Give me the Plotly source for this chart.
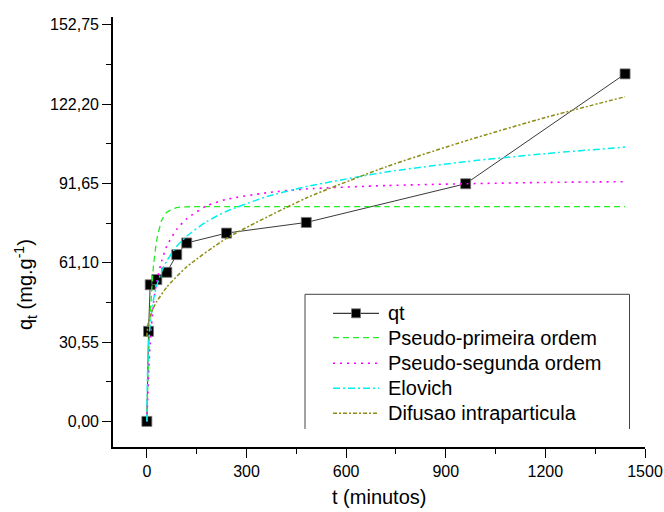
import plotly.graph_objects as go

# ---- data ----
t_exp = [0, 5, 10, 30, 60, 90, 120, 240, 480, 960, 1440]
qt_exp = [0.0, 34.7, 52.6, 54.6, 57.4, 64.2, 68.7, 72.5, 76.6, 91.5, 133.8]

t_model = [0, 2, 5, 10, 20, 30, 45, 60, 90, 120, 180, 240, 360, 480, 720, 960, 1200, 1440]
q_pfo = [0.0, 10.5, 24.0, 41.0, 60.0, 70.0, 77.5, 80.5, 82.3, 82.6, 82.7, 82.7, 82.7, 82.7, 82.7, 82.7, 82.7, 82.7]
q_pso = [0.0, 7.5, 17.5, 30.5, 45.5, 54.0, 62.0, 67.5, 74.0, 78.0, 83.0, 85.5, 88.0, 89.5, 90.8, 91.5, 92.0, 92.3]
q_elo = [0.0, 18.8, 29.1, 37.8, 46.9, 52.4, 57.9, 61.8, 67.4, 71.3, 76.9, 80.9, 86.5, 90.4, 96.0, 100.0, 103.1, 105.6]
t_dif = [0, 2, 5, 10, 20, 30, 60, 120, 240, 480, 720, 960, 1200, 1440]
q_dif = [32.5, 36.3, 38.3, 40.6, 43.8, 46.2, 51.7, 59.5, 70.5, 86.0, 98.0, 108.0, 117.0, 125.0]

y_tickvals = [0, 30.55, 61.10, 91.65, 122.20, 152.75]
y_ticktext = ["0,00", "30,55", "61,10", "91,65", "122,20", "152,75"]
x_tickvals = [0, 300, 600, 900, 1200, 1500]
x_ticktext = ["0", "300", "600", "900", "1200", "1500"]

names = ["qt", "Pseudo-primeira ordem", "Pseudo-segunda ordem", "Elovich", "Difusao intraparticula"]
colors = ["#3a3a3a", "#22ee22", "#ff00ff", "#00f0f0", "#8c8c14"]
dashes = ["solid", "6px,4px", "2px,5px", "7px,3px,2px,3px", "4px,2px,2px,2px"]
widths = [1, 1.3, 1.6, 1.5, 1.5]

# ---- geometry (body margin removed by post_script) ----
W, H = 664, 512
L, R, T, B = 113, 19, 17, 65
pw, ph = W - L - R, H - T - B

def px(x):
    return (x - L) / pw

def py(y):
    return (H - B - y) / ph

FONT = "Liberation Sans, Arial"

fig = go.Figure()
fig.add_trace(go.Scatter(
    x=t_exp, y=qt_exp, name=names[0], mode="lines+markers",
    line=dict(color=colors[0], width=widths[0]),
    marker=dict(symbol="square", size=10, color="black", line=dict(color="#777", width=0.8)),
))
model_x = [t_model, t_model, t_model, t_dif]
model_y = [q_pfo, q_pso, q_elo, q_dif]
for i in range(4):
    fig.add_trace(go.Scatter(
        x=model_x[i], y=model_y[i], name=names[i + 1], mode="lines",
        line=dict(color=colors[i + 1], width=widths[i + 1], dash=dashes[i + 1],
                  shape="spline", smoothing=0.6),
    ))

axis_common = dict(
    showgrid=False, zeroline=False, showline=True, linecolor="black", linewidth=1.6,
    ticks="outside", ticklen=9, tickwidth=1.4, tickcolor="black",
    tickfont=dict(family=FONT, size=16, color="black"),
    tickmode="array", mirror=False,
)

fig.update_xaxes(
    range=[-102, 1500], tickvals=x_tickvals, ticktext=x_ticktext,
    minor=dict(ticks="outside", ticklen=5, tickwidth=1.2, tickcolor="black", dtick=150, tick0=0),
    **axis_common,
)
fig.update_yaxes(
    range=[-9.86, 155.7], tickvals=y_tickvals, ticktext=y_ticktext,
    minor=dict(ticks="outside", ticklen=5, tickwidth=1.2, tickcolor="black", dtick=15.275, tick0=0),
    **axis_common,
)

# ---- legend (frame open at bottom as in the reference) ----
lx0, lx1, ly0, ly1 = px(305), px(629.5), py(294.3), py(429)
for (x0, y0, x1, y1) in [(lx0, ly1, lx0, ly0), (lx0, ly0, lx1, ly0), (lx1, ly0, lx1, ly1)]:
    fig.add_shape(type="line", xref="paper", yref="paper", x0=x0, y0=y0, x1=x1, y1=y1,
                  line=dict(color="#444", width=1))

rows = [313.3, 337.7, 363.3, 388.3, 413.3]
for i, name in enumerate(names):
    yy = py(rows[i])
    fig.add_shape(type="line", xref="paper", yref="paper", x0=px(333), x1=px(379), y0=yy, y1=yy,
                  line=dict(color=colors[i], width=max(widths[i], 1.2), dash=dashes[i]))
    fig.add_annotation(xref="paper", yref="paper", x=px(386), y=yy, xanchor="left", yanchor="middle",
                       showarrow=False, text=name, font=dict(family=FONT, size=20, color="black"))
fig.add_shape(type="rect", xref="paper", yref="paper",
              x0=px(351.5), x1=px(360.5), y0=py(308.8), y1=py(317.8),
              fillcolor="black", line=dict(color="#777", width=0.8))

fig.add_annotation(
    xref="paper", yref="paper", x=px(25), y=py(285), textangle=-90, showarrow=False,
    xanchor="center", yanchor="middle",
    text="q<sub>t</sub> (mg.g<sup>-1</sup>)",
    font=dict(family=FONT, size=20, color="black"),
)
fig.add_annotation(
    xref="paper", yref="paper", x=px(379), y=py(497), showarrow=False,
    xanchor="center", yanchor="middle",
    text="t (minutos)",
    font=dict(family=FONT, size=20, color="black"),
)

fig.update_layout(
    width=W, height=H, margin=dict(l=L, r=R, t=T, b=B, autoexpand=False),
    paper_bgcolor="white", plot_bgcolor="white",
    showlegend=False,
)

fig.write_html(
    "out.html",
    config={"displayModeBar": False},
    post_script="document.body.style.margin='0px';document.body.style.overflow='hidden';",
)
